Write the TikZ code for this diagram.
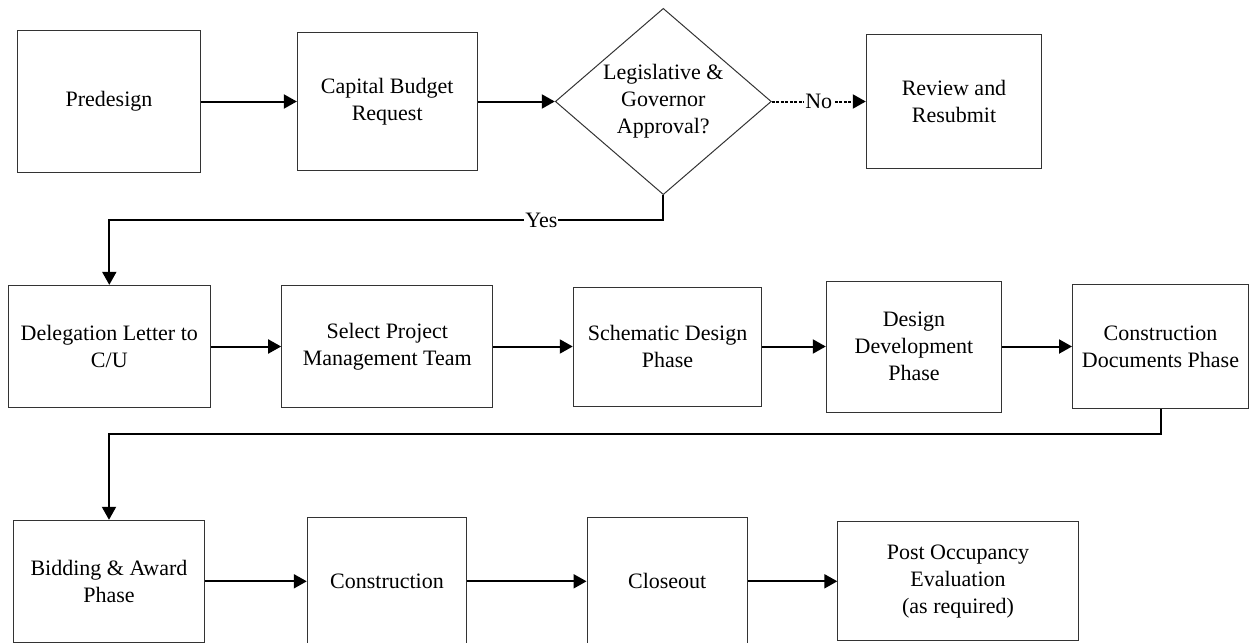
\documentclass[tikz,border=0pt]{standalone}
\usepackage{fontspec}
\setmainfont{Liberation Serif}
\usetikzlibrary{shapes.geometric,arrows.meta}

\begin{document}
\begin{tikzpicture}[x=0.5pt,y=-0.5pt,
  box/.style={draw=black!80,line width=0.5pt,align=center,inner sep=0pt,font=\fontsize{11}{13.4}\selectfont},
  decision/.style={diamond,aspect=1.16,draw=black!80,line width=0.5pt,align=center,inner sep=0pt,font=\fontsize{11}{13.4}\selectfont},
  conn/.style={line width=1pt,-{Triangle[length=6.5pt,width=7pt]}},
  lbl/.style={fill=white,inner sep=0.5pt,font=\fontsize{11}{13.4}\selectfont}]
\useasboundingbox (0,0) rectangle (1249,643);

\node[box,minimum width=91.7pt,minimum height=71pt] (pre) at (109,101.5) {Predesign};
\node[box,minimum width=89.85pt,minimum height=69.35pt] (cbr) at (387.2,101.5) {Capital Budget\\Request};
\node[decision,minimum width=108pt,minimum height=93.15pt] (dia) at (663.3,101.5) {Legislative \&\\Governor\\Approval?};
\node[box,minimum width=87.7pt,minimum height=67.2pt] (rev) at (954,101.5) {Review and\\Resubmit};

\node[box,minimum width=101pt,minimum height=61.15pt] (del) at (109.3,346.5) {Delegation Letter to\\C/U};
\node[box,minimum width=105.65pt,minimum height=61.15pt] (sel) at (387.3,346.5) {Select Project\\Management Team};
\node[box,minimum width=94.25pt,minimum height=59.5pt] (sch) at (667.5,346.5) {Schematic Design\\Phase};
\node[box,minimum width=87.7pt,minimum height=65.5pt] (dev) at (914,346.5) {Design\\Development\\Phase};
\node[box,minimum width=88pt,minimum height=62.35pt] (cdp) at (1160.5,346.5) {Construction\\Documents Phase};

\node[box,minimum width=95.3pt,minimum height=61pt] (bid) at (109,581.3) {Bidding \& Award\\Phase};
\node[box,minimum width=79.7pt,minimum height=64pt] (con) at (387,581.3) {Construction};
\node[box,minimum width=80.15pt,minimum height=64.3pt] (clo) at (667.2,581.3) {Closeout};
\node[box,minimum width=120.15pt,minimum height=59.35pt] (poe) at (958,581.3) {Post Occupancy\\Evaluation\\(as required)};

\coordinate (ybend) at (663.3,220);
\coordinate (cbend) at (1160.5,434);

\draw[conn] (pre) -- (cbr);
\draw[conn] (cbr) -- (dia);
\draw[conn,dash pattern=on 1.5pt off 0.75pt] (dia) -- node[lbl] {No} (rev);
\draw[conn] (dia.south) -- (ybend) -| node[lbl,pos=0.11] {Yes} (del.north);

\draw[conn] (del) -- (sel);
\draw[conn] (sel) -- (sch);
\draw[conn] (sch) -- (dev);
\draw[conn] (dev) -- (cdp);
\draw[conn] (cdp.south) -- (cbend) -| (bid.north);

\draw[conn] (bid) -- (con);
\draw[conn] (con) -- (clo);
\draw[conn] (clo) -- (poe);
\end{tikzpicture}
\end{document}
